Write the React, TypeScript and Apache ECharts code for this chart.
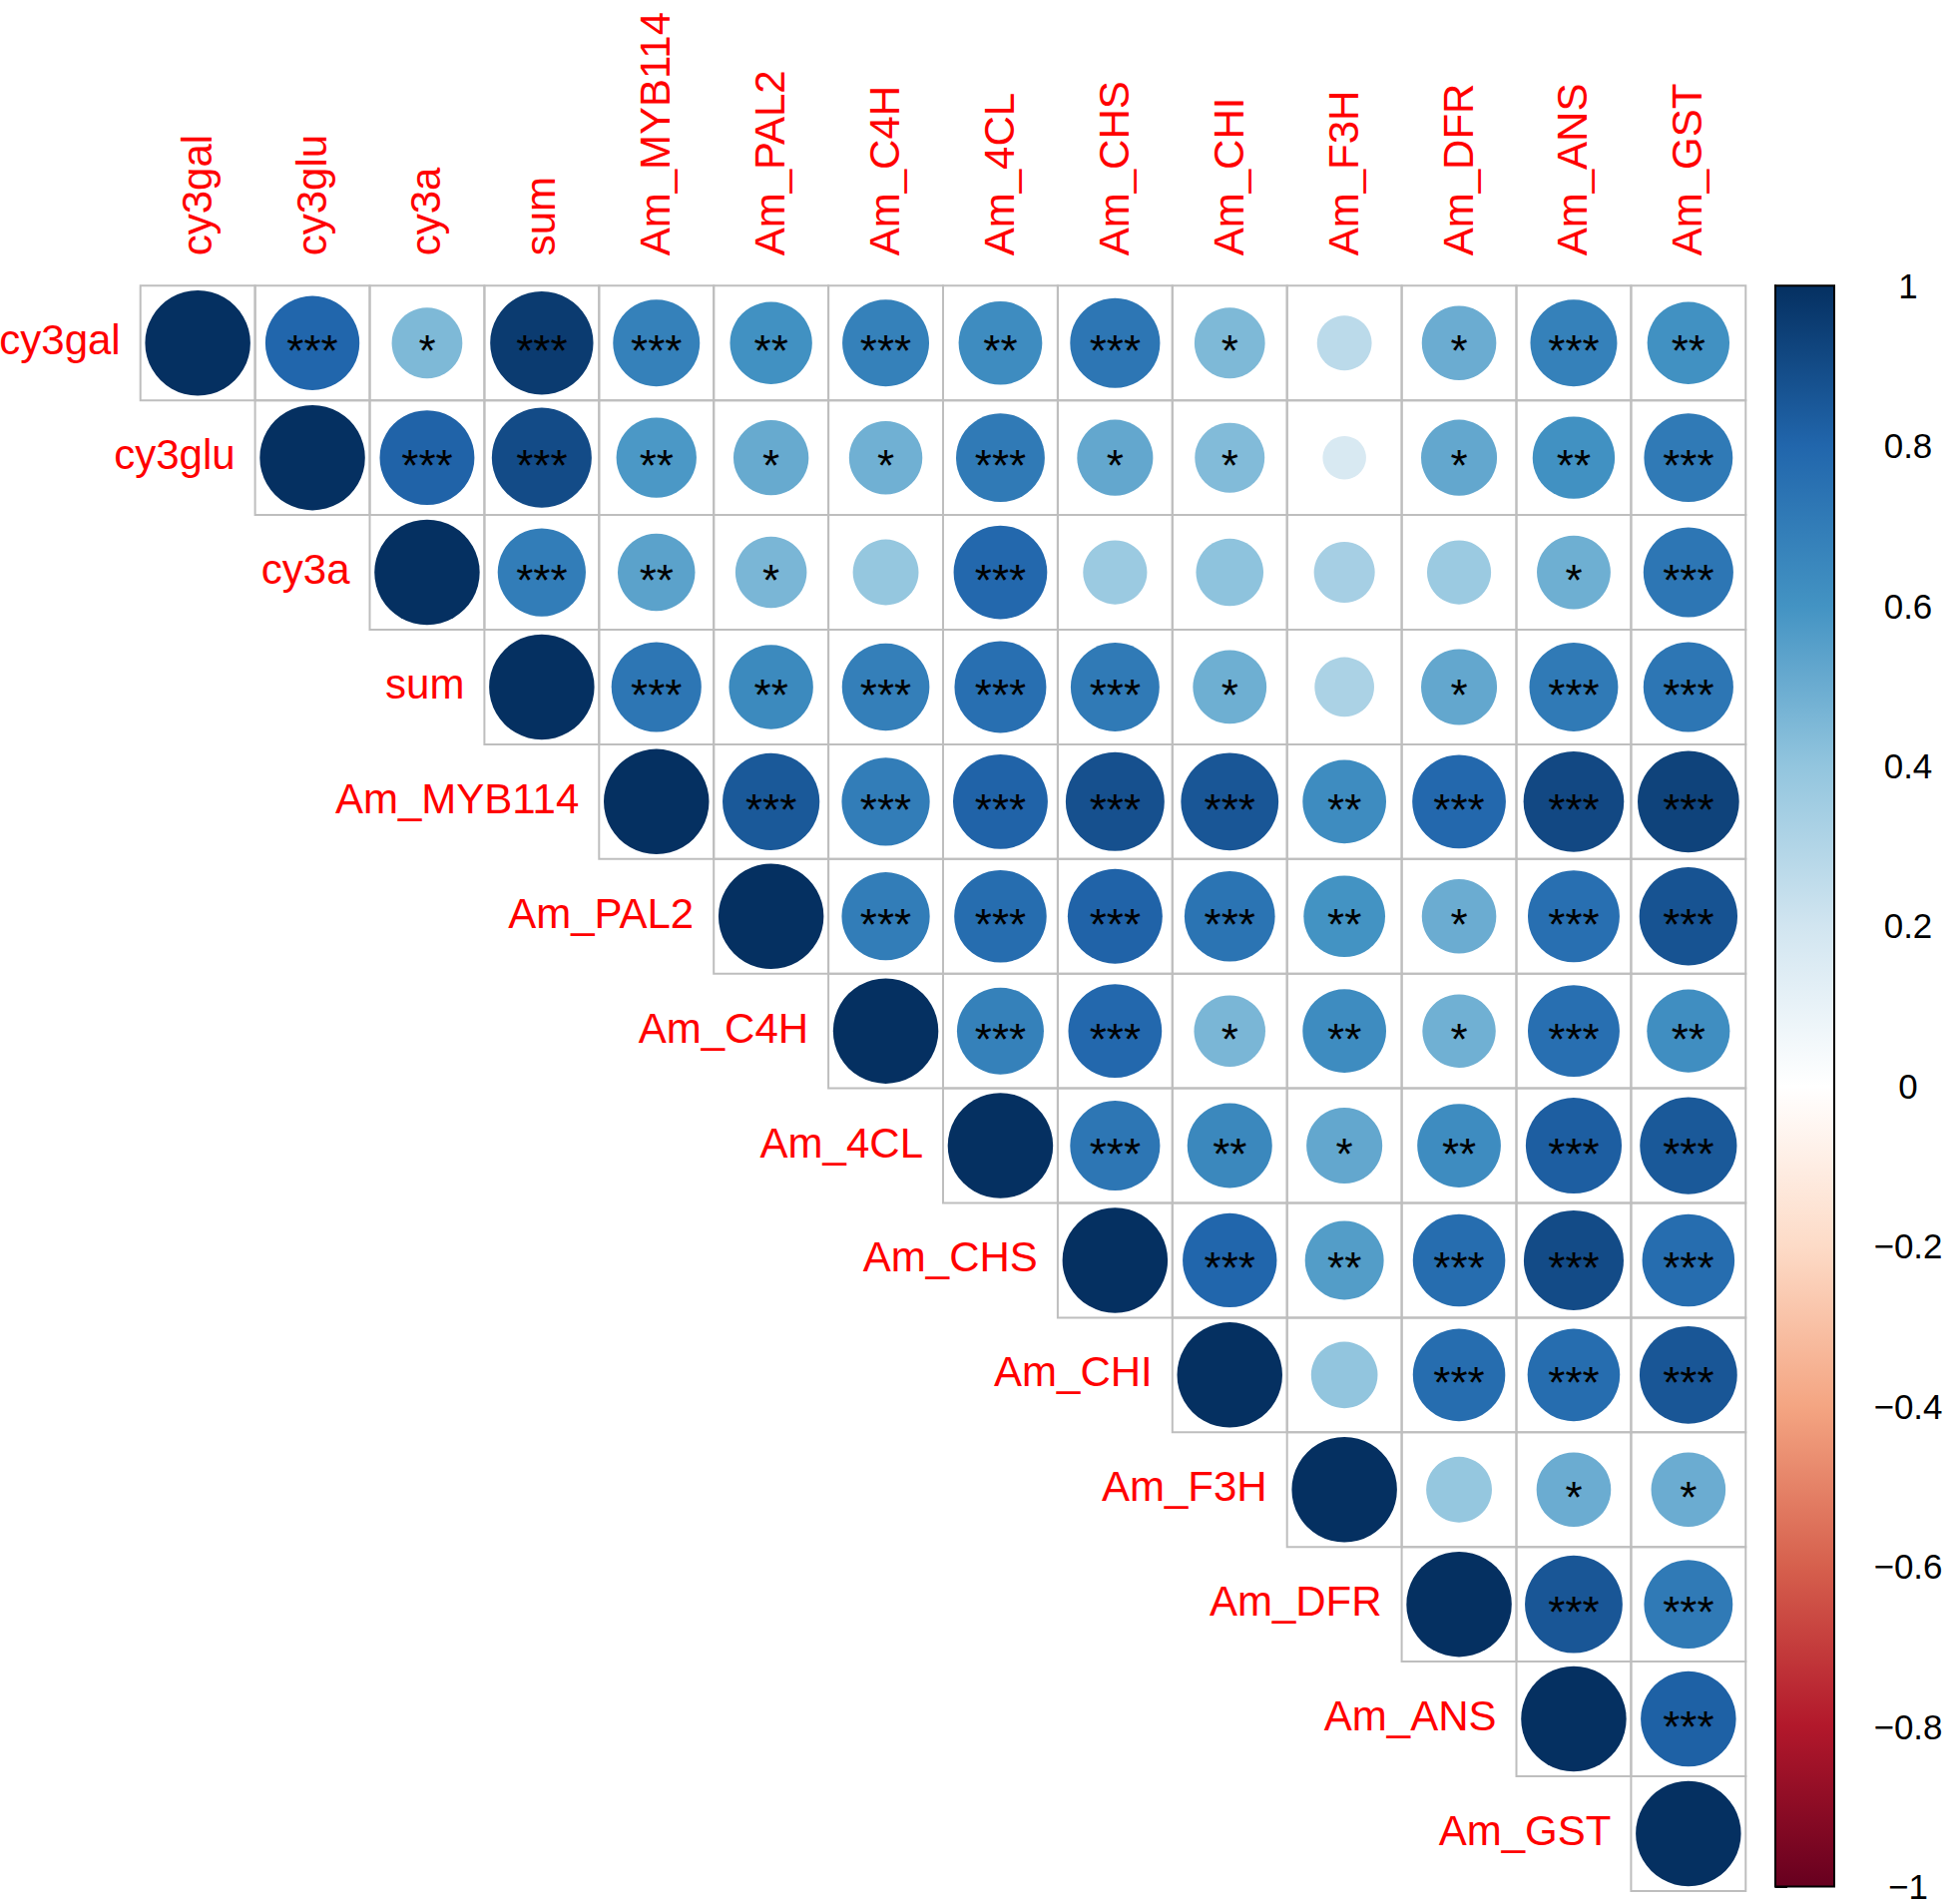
import React, { useEffect, useRef } from "react";
import * as echarts from "echarts";

const variables = [
  "cy3gal", "cy3glu", "cy3a", "sum", "Am_MYB114", "Am_PAL2", "Am_C4H",
  "Am_4CL", "Am_CHS", "Am_CHI", "Am_F3H", "Am_DFR", "Am_ANS", "Am_GST",
];

// Upper-triangle correlations, each row starts at the diagonal
const corrCy3gal = [1, 0.80, 0.45, 0.96, 0.68, 0.61, 0.68, 0.63, 0.73, 0.45, 0.27, 0.50, 0.68, 0.61];
const corrCy3glu = [1, 0.81, 0.90, 0.58, 0.51, 0.485, 0.71, 0.52, 0.44, 0.17, 0.52, 0.61, 0.71];
const corrCy3a = [1, 0.70, 0.54, 0.46, 0.39, 0.79, 0.37, 0.41, 0.335, 0.37, 0.49, 0.73];
const corrSum = [1, 0.73, 0.64, 0.69, 0.76, 0.71, 0.49, 0.32, 0.52, 0.71, 0.73];
const corrMYB114 = [1, 0.85, 0.70, 0.81, 0.88, 0.86, 0.63, 0.79, 0.91, 0.93];
const corrPAL2 = [1, 0.70, 0.77, 0.81, 0.74, 0.60, 0.50, 0.76, 0.87];
const corrC4H = [1, 0.68, 0.79, 0.46, 0.63, 0.485, 0.76, 0.62];
const corr4CL = [1, 0.73, 0.65, 0.52, 0.63, 0.83, 0.85];
const corrCHS = [1, 0.80, 0.56, 0.77, 0.90, 0.77];
const corrCHI = [1, 0.40, 0.77, 0.77, 0.86];
const corrF3H = [1, 0.39, 0.50, 0.50];
const corrDFR = [1, 0.86, 0.71];
const corrANS = [1, 0.82];
const corrGST = [1];

// Significance marks, same layout
const sigCy3gal = ["", "***", "*", "***", "***", "**", "***", "**", "***", "*", "", "*", "***", "**"];
const sigCy3glu = ["", "***", "***", "**", "*", "*", "***", "*", "*", "", "*", "**", "***"];
const sigCy3a = ["", "***", "**", "*", "", "***", "", "", "", "", "*", "***"];
const sigSum = ["", "***", "**", "***", "***", "***", "*", "", "*", "***", "***"];
const sigMYB114 = ["", "***", "***", "***", "***", "***", "**", "***", "***", "***"];
const sigPAL2 = ["", "***", "***", "***", "***", "**", "*", "***", "***"];
const sigC4H = ["", "***", "***", "*", "**", "*", "***", "**"];
const sig4CL = ["", "***", "**", "*", "**", "***", "***"];
const sigCHS = ["", "***", "**", "***", "***", "***"];
const sigCHI = ["", "", "***", "***", "***"];
const sigF3H = ["", "", "*", "*"];
const sigDFR = ["", "***", "***"];
const sigANS = ["", "***"];
const sigGST = [""];

const corrRows = [corrCy3gal, corrCy3glu, corrCy3a, corrSum, corrMYB114, corrPAL2, corrC4H, corr4CL, corrCHS, corrCHI, corrF3H, corrDFR, corrANS, corrGST];
const sigRows = [sigCy3gal, sigCy3glu, sigCy3a, sigSum, sigMYB114, sigPAL2, sigC4H, sig4CL, sigCHS, sigCHI, sigF3H, sigDFR, sigANS, sigGST];

// RdBu palette from -1 to 1
const paletteRdBu = ["#67001F", "#B2182B", "#D6604D", "#F4A582", "#FDDBC7", "#FFFFFF", "#D1E5F0", "#92C5DE", "#4393C3", "#2166AC", "#053061"];

const FONT = "'Liberation Sans', Arial, Helvetica, sans-serif";

function hexToRgb(h: string) {
  const n = parseInt(h.slice(1), 16);
  return [(n >> 16) & 255, (n >> 8) & 255, n & 255];
}
function colorFor(v: number) {
  const t = ((v + 1) / 2) * (paletteRdBu.length - 1);
  const i = Math.max(0, Math.min(paletteRdBu.length - 2, Math.floor(t)));
  const f = t - i;
  const a = hexToRgb(paletteRdBu[i]);
  const b = hexToRgb(paletteRdBu[i + 1]);
  const c = a.map((x, k) => Math.round(x + (b[k] - x) * f));
  return `rgb(${c[0]},${c[1]},${c[2]})`;
}

const cellData: number[][] = [];
const cellSig: string[] = [];
corrRows.forEach((row, i) => {
  row.forEach((v, k) => {
    cellData.push([i + k, i, v]);
    cellSig.push(sigRows[i][k]);
  });
});

function fmtTick(v: number) {
  const r = Math.round(v * 10) / 10;
  if (r === 0) return "0";
  return r < 0 ? "\u2212" + String(Math.abs(r)) : String(r);
}

export default function App() {
  const ref = useRef<HTMLDivElement>(null);
  useEffect(() => {
    const chart = echarts.init(ref.current!, null, { renderer: "svg" });
    const gridLeft = 140.7;
    const gridTop = 286.3;
    const gridSize = 1608.6;
    chart.setOption({
      animation: false,
      backgroundColor: "#ffffff",
      grid: [
        { left: gridLeft, top: gridTop, width: gridSize, height: gridSize },
        { left: 1779, top: gridTop, width: 59, height: gridSize },
      ],
      xAxis: [
        {
          type: "category",
          gridIndex: 0,
          data: variables,
          position: "top",
          show: false,
        },
        { type: "value", gridIndex: 1, min: 0, max: 1, show: false },
      ],
      yAxis: [
        {
          type: "category",
          gridIndex: 0,
          data: variables,
          inverse: true,
          show: false,
        },
        {
          type: "value",
          gridIndex: 1,
          min: -1,
          max: 1,
          interval: 0.2,
          position: "right",
          axisLine: { show: true, lineStyle: { color: "#000", width: 2 } },
          axisTick: { show: true, inside: false, length: 12, lineStyle: { color: "#000", width: 2 } },
          splitLine: { show: false },
          axisLabel: {
            align: "center",
            margin: 74,
            color: "#000",
            fontSize: 35,
            fontFamily: FONT,
            formatter: fmtTick,
          },
        },
      ],
      series: [
        {
          type: "custom",
          xAxisIndex: 0,
          yAxisIndex: 0,
          data: cellData,
          renderItem: (params: any, api: any) => {
            const j = api.value(0);
            const i = api.value(1);
            const v = api.value(2);
            const c = api.coord([j, i]);
            const s = api.size([1, 1]);
            const w = s[0];
            const h = s[1];
            const children: any[] = [
              {
                type: "rect",
                shape: { x: c[0] - w / 2, y: c[1] - h / 2, width: w, height: h },
                style: { fill: null, stroke: "#BEBEBE", lineWidth: 2 },
              },
              {
                type: "circle",
                shape: { cx: c[0], cy: c[1], r: Math.sqrt(Math.abs(v)) * 0.459 * w },
                style: { fill: colorFor(v) },
              },
            ];
            const sig = cellSig[params.dataIndex];
            if (sig) {
              children.push({
                type: "text",
                x: c[0],
                y: c[1] + 8,
                style: {
                  text: sig,
                  fill: "#000",
                  font: `44px ${FONT}`,
                  align: "center",
                  verticalAlign: "middle",
                },
              });
            }
            if (i === j) {
              children.push({
                type: "text",
                x: c[0] - w / 2 - 20,
                y: c[1] - 3,
                style: {
                  text: variables[i],
                  fill: "#FF0000",
                  font: `42px ${FONT}`,
                  align: "right",
                  verticalAlign: "middle",
                },
              });
            }
            if (i === 0) {
              children.push({
                type: "text",
                x: c[0] - 1,
                y: c[1] - h / 2 - 30,
                rotation: Math.PI / 2,
                style: {
                  text: variables[j],
                  fill: "#FF0000",
                  font: `42px ${FONT}`,
                  align: "left",
                  verticalAlign: "middle",
                },
              });
            }
            return { type: "group", children };
          },
        },
        {
          type: "custom",
          xAxisIndex: 1,
          yAxisIndex: 1,
          data: [[0, 0]],
          renderItem: (params: any, api: any) => {
            const tl = api.coord([0, 1]);
            const br = api.coord([1, -1]);
            const stops = paletteRdBu
              .slice()
              .reverse()
              .map((col, k) => ({ offset: k / (paletteRdBu.length - 1), color: col }));
            return {
              type: "rect",
              shape: { x: tl[0], y: tl[1], width: br[0] - tl[0], height: br[1] - tl[1] },
              style: {
                fill: new echarts.graphic.LinearGradient(0, 0, 0, 1, stops),
                stroke: "#000",
                lineWidth: 2,
              },
            };
          },
        },
      ],
    });
    return () => chart.dispose();
  }, []);
  return (
    <div
      ref={ref}
      style={{ position: "fixed", left: 0, top: 0, width: 1952, height: 1908, background: "#fff" }}
    />
  );
}
